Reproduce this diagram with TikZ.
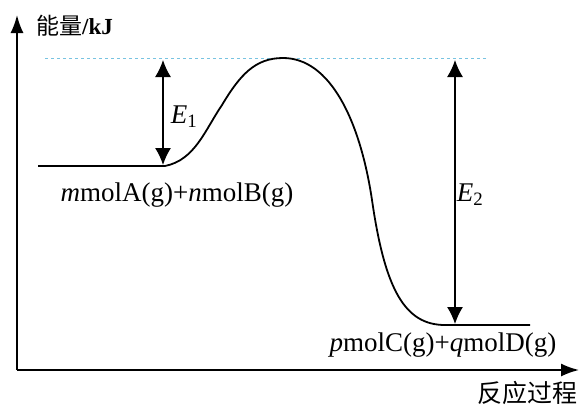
\documentclass[tikz,border=0pt]{standalone}
\usepackage{fontspec}
\setmainfont{Liberation Serif}
\newfontfamily\cjk{Noto Sans CJK SC}
\usepackage{tikz}
\usetikzlibrary{arrows.meta}

\definecolor{guide}{RGB}{120,195,225}

\begin{document}
\begin{tikzpicture}[x=1pt,y=-1pt,>={Latex[length=18pt,width=13pt]},
  axis/.style={line width=1.8pt},
  gap/.style={{Latex[length=17pt,width=16pt]}-{Latex[length=17pt,width=16pt]},line width=1.4pt},
  lab/.style={font=\fontsize{27}{30}\selectfont,inner sep=0pt}]
\useasboundingbox (0,0) rectangle (580,408);
\coordinate (O) at (17,370);
\coordinate (ytop) at (17,15);
\coordinate (xend) at (579,370);
\draw[axis,->] (O)--(ytop);
\draw[axis,->] (O)--(xend);
\node[lab,font=\fontsize{23}{26}\selectfont,anchor=west] (ylab) at (36,26) {{\cjk 能量}\textbf{/kJ}};
\node[lab,font=\cjk\fontsize{25}{28}\selectfont,anchor=east] (xlab) at (578,393) {反应过程};
% levels and the hump
\coordinate (peak) at (283,58);
\coordinate (r0) at (38,166);
\coordinate (r1) at (165,166);
\coordinate (p0) at (445,325);
\coordinate (p1) at (530,325);
\draw[guide,dashed,line width=.8pt] (45,58) -- (487,58);
\draw[line width=1.8pt] (r0) -- (r1) .. controls (195,160) and (205,130) .. (222,105)
  .. controls (240,75) and (255,58) .. (peak)
  .. controls (330,58) and (360,120) .. (372,200)
  .. controls (385,290) and (405,325) .. (p0) -- (p1);
% energy gaps
\coordinate (e1top) at (163,60);
\coordinate (e1bot) at (163,165);
\coordinate (e2top) at (455,60);
\coordinate (e2bot) at (455,324);
\draw[gap] (e1top) -- (e1bot);
\draw[gap] (e2top) -- (e2bot);
\node[lab] (E1) at (184,117) {\textit{E}\textsubscript{1}};
\node[lab] (E2) at (470,195) {\textit{E}\textsubscript{2}};
\node[lab] (react) at (177,195) {\textit{m}molA(g)+\textit{n}molB(g)};
\node[lab] (prod) at (443,345) {\textit{p}molC(g)+\textit{q}molD(g)};
\end{tikzpicture}
\end{document}
